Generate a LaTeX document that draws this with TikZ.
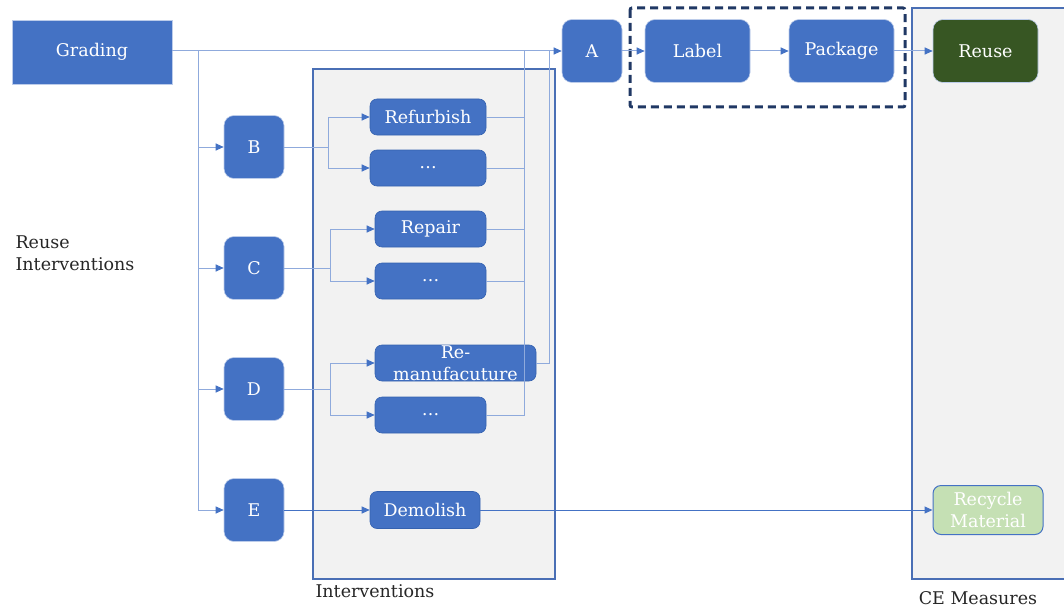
\documentclass[tikz,border=0pt]{standalone}
\usepackage{fontspec}
\setmainfont{DejaVu Serif}
\usetikzlibrary{arrows.meta}
\definecolor{boxblue}{HTML}{4472C4}
\definecolor{boxedge}{HTML}{3562B0}
\definecolor{linkblue}{HTML}{8FAADC}
\definecolor{panelgray}{HTML}{F2F2F2}
\definecolor{paneledge}{HTML}{4A6FB5}
\definecolor{navy}{HTML}{203864}
\definecolor{darkgreen}{HTML}{375623}
\definecolor{lightgreen}{HTML}{C5E0B4}

\begin{document}
\begin{tikzpicture}[x=1pt,y=-1pt,font=\fontsize{17.5}{22}\selectfont,
    stage/.style={draw=linkblue!60!white, line width=0.6pt, fill=boxblue, text=white,
        rounded corners=10pt, minimum width=60pt, minimum height=63pt, inner sep=0pt},
    task/.style={draw=boxedge, line width=0.6pt, fill=boxblue, text=white,
        rounded corners=7pt, minimum height=36pt, inner sep=0pt},
    link/.style={draw=linkblue, line width=1pt, -{Triangle[length=8pt,width=7pt,color=boxblue]}},
    plain/.style={draw=linkblue, line width=1pt},
    panel/.style={draw=paneledge, line width=1.4pt, fill=panelgray}]
    \useasboundingbox (0,0) rectangle (1064,607);

    % Panels behind everything
    \draw[panel] (313,69) rectangle (555,579);
    \node[anchor=west, text=black!85] (intlbl) at (312,591) {Interventions};
    \fill[panelgray] (912,8) rectangle (1064,579);
    \draw[paneledge, line width=1.4pt] (1066,8) -- (912,8) -- (912,579) -- (1066,579);
    \node[text=black!85] (celbl) at (978,598) {CE Measures};
    \draw[navy, line width=3pt, dash pattern=on 8pt off 5pt, rounded corners=2pt] (630,8) rectangle (905,107);
    \node[anchor=west, align=left, text=black!85] (reuselbl) at (12,253) {Reuse\\Interventions};

    % Grading and the grade boxes
    \node[stage, rounded corners=0pt, minimum width=160pt, minimum height=64pt] (grading) at (92,52) {Grading};
    \node[stage] (a) at (592,51) {A};
    \node[stage] (b) at (254,147) {B};
    \node[stage] (c) at (254,268) {C};
    \node[stage] (d) at (254,389) {D};
    \node[stage] (e) at (254,510) {E};

    % Interventions
    \node[task, minimum width=116pt] (refurbish) at (428,117) {Refurbish};
    \node[task, minimum width=116pt] (dotsb) at (428,168) {\dots};
    \node[task, minimum width=111pt] (repair) at (430.5,229) {Repair};
    \node[task, minimum width=111pt] (dotsc) at (430.5,281) {\dots};
    \node[task, minimum width=161pt, label={[text=white, align=center]center:Re-\\manufacuture}] (reman) at (455.5,363) {};
    \node[task, minimum width=111pt] (dotsd) at (430.5,415) {\dots};
    \node[task, minimum width=110pt, minimum height=37pt] (demolish) at (425,510) {Demolish};

    % Label, package and CE measures
    \node[stage, minimum width=105pt] (labelling) at (697.5,51) {Label};
    \node[stage, minimum width=105pt] (packaging) at (841.5,51) {Package};
    \node[stage, minimum width=105pt, fill=darkgreen] (reuse) at (985.5,51) {Reuse};
    \node[task, draw=boxblue, line width=1pt, fill=lightgreen, minimum width=110pt, minimum height=49pt,
        rounded corners=8pt, align=center] (recycle) at (988,510) {Recycle\\Material};

    % Grading to the grades
    \coordinate (trunk) at (198,51);
    \draw[link] (grading.east |- trunk) -- (a.west);
    \foreach \n in {b,c,d,e}
        \draw[link] (trunk) |- (\n.west);

    % Grades to interventions
    \coordinate (bfork) at (328,147);
    \coordinate (cfork) at (330,268);
    \coordinate (dfork) at (330,389);
    \draw[plain] (b.east) -- (bfork);
    \draw[link] (bfork) |- (refurbish.west);
    \draw[link] (bfork) |- (dotsb.west);
    \draw[plain] (c.east) -- (cfork);
    \draw[link] (cfork) |- (repair.west);
    \draw[link] (cfork) |- (dotsc.west);
    \draw[plain] (d.east) -- (dfork);
    \draw[link] (dfork) |- (reman.west);
    \draw[link] (dfork) |- (dotsd.west);
    \draw[link, draw=boxblue] (e.east) -- (demolish.west);
    \draw[link, draw=boxblue] (demolish.east) -- (recycle.west);

    % Interventions back to A
    \coordinate (gather) at (524,51);
    \coordinate (gatherb) at (549,51);
    \foreach \n in {refurbish,dotsb,repair,dotsc,dotsd}
        \draw[plain] (\n.east) -| (gather);
    \draw[plain] (reman.east) -| (gatherb);

    % A to reuse
    \draw[link] (a.east) -- (labelling.west);
    \draw[link] (labelling.east) -- (packaging.west);
    \draw[link] (packaging.east) -- (reuse.west);
\end{tikzpicture}
\end{document}
